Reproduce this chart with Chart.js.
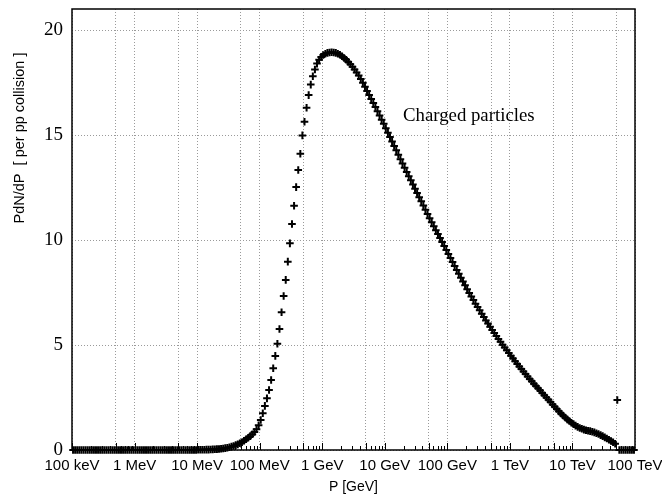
<!DOCTYPE html>
<html>
<head>
<meta charset="utf-8">
<title>Charged particles</title>
<script src="https://cdn.jsdelivr.net/npm/chart.js@4/dist/chart.umd.min.js"></script>
<style>
  html, body { margin: 0; padding: 0; background: #fff; }
  #spectrum { display: block; }
</style>
</head>
<body>
<canvas id="spectrum" width="662" height="496"></canvas>
<script>
// momentum bins: 30 per decade, starting at 100 keV (values in GeV)
var binsPerDecade = 30;
var logPMin = -4;

// P dN/dP per pp collision, one value per bin
var dndp = [
	0, 0, 0, 0, 0, 0, 0, 0, 0, 0,
	0, 0, 0, 0, 0, 0, 0, 0, 0, 0,
	0, 0, 0, 0, 0, 0, 0, 0, 0, 0,
	0, 0, 0, 0, 0, 0, 0, 0, 0, 0,
	0, 0, 0, 0, 0, 0, 0, 0, 0, 0,
	0, 0, 0, 0, 0, 0, 0, 0, 0, 0,
	0.01, 0.01, 0.01, 0.015, 0.02, 0.02, 0.025, 0.03, 0.035, 0.04,
	0.05, 0.06, 0.07, 0.09, 0.11, 0.13, 0.16, 0.19, 0.23, 0.27,
	0.32, 0.37, 0.44, 0.51, 0.58, 0.66, 0.75, 0.86, 0.99, 1.18,
	1.43, 1.75, 2.10, 2.46, 2.86, 3.33, 3.89, 4.48, 5.06, 5.76,
	6.56, 7.33, 8.10, 8.97, 9.84, 10.76, 11.63, 12.52, 13.33, 14.11,
	14.98, 15.63, 16.30, 16.90, 17.40, 17.80, 18.12, 18.40, 18.58, 18.72,
	18.81, 18.87, 18.91, 18.93, 18.94, 18.93, 18.91, 18.87, 18.82, 18.75,
	18.67, 18.58, 18.48, 18.37, 18.25, 18.12, 17.98, 17.83, 17.67, 17.49,
	17.30, 17.10, 16.91, 16.71, 16.52, 16.33, 16.13, 15.93, 15.73, 15.53,
	15.32, 15.11, 14.90, 14.69, 14.48, 14.27, 14.06, 13.85, 13.64, 13.44,
	13.24, 13.04, 12.84, 12.64, 12.44, 12.24, 12.04, 11.84, 11.64, 11.44,
	11.24, 11.04, 10.85, 10.66, 10.47, 10.28, 10.09, 9.90, 9.71, 9.52,
	9.33, 9.14, 8.95, 8.76, 8.57, 8.39, 8.20, 8.02, 7.84, 7.66,
	7.48, 7.31, 7.14, 6.97, 6.81, 6.65, 6.49, 6.33, 6.17, 6.02,
	5.87, 5.72, 5.57, 5.43, 5.29, 5.15, 5.01, 4.88, 4.75, 4.62,
	4.49, 4.36, 4.23, 4.10, 3.98, 3.86, 3.74, 3.62, 3.50, 3.38,
	3.27, 3.16, 3.05, 2.94, 2.83, 2.72, 2.61, 2.50, 2.39, 2.28,
	2.17, 2.06, 1.95, 1.84, 1.74, 1.64, 1.55, 1.46, 1.38, 1.30,
	1.23, 1.16, 1.10, 1.05, 1.01, 0.97, 0.94, 0.92, 0.90, 0.87,
	0.84, 0.80, 0.76, 0.71, 0.66, 0.60, 0.55, 0.49, 0.43, 0.37,
	0.30, 2.38, 0, 0, 0, 0, 0, 0, 0, 0
];

// decade ticks on the momentum axis
var decadeValues = [1e-4, 1e-3, 1e-2, 1e-1, 1, 10, 100, 1e3, 1e4, 1e5];
var decadeLabels = ['100 keV', '1 MeV', '10 MeV', '100 MeV', '1 GeV', '10 GeV', '100 GeV', '1 TeV', '10 TeV', '100 TeV'];
var yTicks = [0, 5, 10, 15, 20];

var points = [];
for (var i = 0; i < dndp.length; i++) {
	points.push({ x: Math.pow(10, logPMin + (i + 0.5) / binsPerDecade), y: dndp[i] });
}

// grid at 1 and 5 of every decade
var gridValues = [];
for (var d = 0; d < decadeValues.length; d++) {
	gridValues.push(decadeValues[d]);
	if (d < decadeValues.length - 1) gridValues.push(decadeValues[d] * 5);
}

var gridStyle = { color: '#9a9a9a', lineWidth: 1, drawTicks: false };

// frame, minor ticks on the x axis, and the free text
var decorations = {
	id: 'decorations',
	beforeDatasetsDraw: function(chart) {
		var ctx = chart.ctx, a = chart.chartArea, xs = chart.scales.x;
		ctx.save();
		ctx.strokeStyle = '#000';
		ctx.lineWidth = 1;
		for (var d = 0; d < decadeValues.length - 1; d++) {
			for (var m = 1; m <= 9; m++) {
				var px = Math.round(xs.getPixelForValue(decadeValues[d] * m)) + 0.5;
				var len = (m === 1 || m === 5) ? 7 : 4;
				ctx.beginPath();
				ctx.moveTo(px, a.bottom);
				ctx.lineTo(px, a.bottom - len);
				ctx.stroke();
			}
		}
		ctx.lineWidth = 1.5;
		ctx.strokeRect(a.left, a.top, a.right - a.left, a.bottom - a.top);
		ctx.restore();
	},
	afterDraw: function(chart) {
		var ctx = chart.ctx;
		ctx.save();
		ctx.fillStyle = '#000';
		ctx.font = '18.8px "Liberation Serif", serif';
		ctx.textBaseline = 'alphabetic';
		ctx.fillText('Charged particles', 403, 121);

		ctx.font = '14.5px "Liberation Sans", Arial, sans-serif';
		ctx.textAlign = 'center';
		ctx.textBaseline = 'middle';
		ctx.translate(20, 138);
		ctx.rotate(-Math.PI / 2);
		ctx.fillText('PdN/dP  [ per pp collision ]', 0, 0);
		ctx.restore();
	}
};

var ctx = document.getElementById('spectrum');

var spectrumChart = new Chart(ctx, {
	type: 'scatter',
	data: {
		datasets: [{
			label: 'Charged particles',
			data: points,
			pointStyle: 'cross',
			pointRadius: 3.8,
			pointHoverRadius: 3.8,
			borderWidth: 2,
			borderColor: '#000',
			backgroundColor: '#000',
			showLine: false,
			clip: false
		}]
	},
	options: {
		responsive: false,
		animation: false,
		events: [],
		layout: { padding: { top: 9, right: 27, left: 0, bottom: 0 } },
		plugins: {
			legend: { display: false },
			tooltip: { enabled: false }
		},
		scales: {
			x: {
				type: 'logarithmic',
				min: 1e-4,
				max: 1e5,
				afterBuildTicks: function(scale) {
					scale.ticks = gridValues.map(function(v) { return { value: v }; });
				},
				afterFit: function(scale) {
					scale.height = 46;
					scale.paddingLeft = 0;
					scale.paddingRight = 0;
				},
				ticks: {
					autoSkip: false,
					maxRotation: 0,
					padding: 7,
					color: '#000',
					font: { family: '"Liberation Sans", Arial, sans-serif', size: 15 },
					callback: function(value) {
						var k = decadeValues.indexOf(value);
						return k >= 0 ? decadeLabels[k] : '';
					}
				},
				grid: gridStyle,
				border: { display: false, dash: [1, 2] },
				title: {
					display: true,
					text: 'P [GeV]',
					color: '#000',
					padding: { top: 0, bottom: 0 },
					font: { family: '"Liberation Sans", Arial, sans-serif', size: 14 }
				}
			},
			y: {
				min: 0,
				max: 21,
				afterBuildTicks: function(scale) {
					scale.ticks = yTicks.map(function(v) { return { value: v }; });
				},
				afterFit: function(scale) {
					scale.width = 72;
					scale.paddingTop = 0;
					scale.paddingBottom = 0;
				},
				ticks: {
					padding: 9,
					color: '#000',
					font: { family: '"Liberation Serif", "Times New Roman", serif', size: 19 }
				},
				grid: gridStyle,
				border: { display: false, dash: [1, 2] }
			}
		}
	},
	plugins: [decorations]
});
</script>
</body>
</html>
